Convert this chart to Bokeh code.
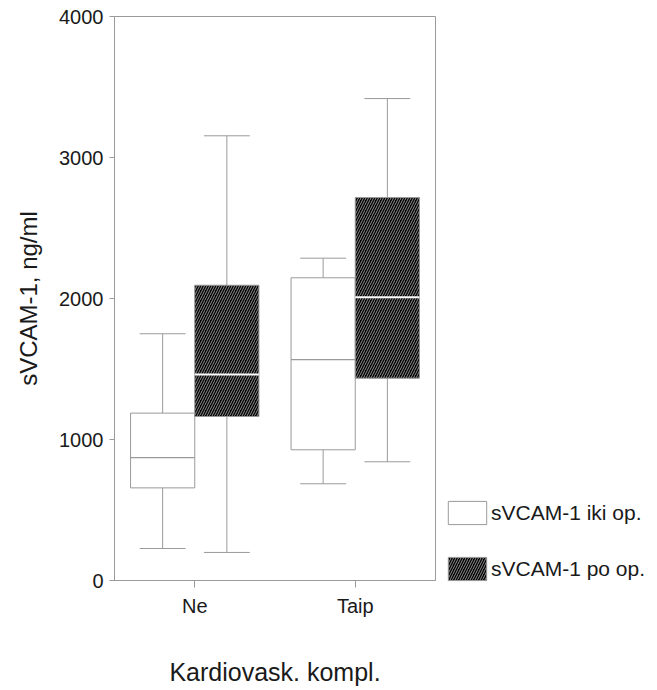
from bokeh.plotting import figure
from bokeh.models import (ColumnDataSource, FactorRange, FixedTicker, Legend, LegendItem, Range1d)
from bokeh.transform import dodge
from bokeh.embed import file_html
from bokeh.resources import INLINE

categories = ["Ne", "Taip"]
tick_values = [0, 1000, 2000, 3000, 4000]

iki_lower = [227, 686]
iki_q1 = [657, 927]
iki_median = [872, 1567]
iki_q3 = [1187, 2147]
iki_upper = [1750, 2286]

po_lower = [199, 842]
po_q1 = [1163, 1435]
po_median = [1461, 2009]
po_q3 = [2094, 2716]
po_upper = [3154, 3418]

FONT = "Liberation Sans"
GREY = "#9a9a9a"

p = figure(x_range=FactorRange(factors=categories, range_padding=0),
           y_range=Range1d(0, 4000),
           frame_width=321, frame_height=564,
           min_border_left=114, min_border_top=16, min_border_bottom=110, min_border_right=222,
           output_backend="svg", toolbar_location=None)

src_iki = ColumnDataSource(dict(x=categories, lower=iki_lower, q1=iki_q1, med=iki_median, q3=iki_q3, upper=iki_upper))
src_po = ColumnDataSource(dict(x=categories, lower=po_lower, q1=po_q1, med=po_median, q3=po_q3, upper=po_upper))

def draw(src, off, box_kwargs, median_color, median_width):
    c = off
    xc = dodge("x", c, range=p.x_range)
    p.segment(x0=xc, y0="q3", x1=xc, y1="upper", source=src, line_color=GREY, line_width=1)
    p.segment(x0=xc, y0="lower", x1=xc, y1="q1", source=src, line_color=GREY, line_width=1)
    xl = dodge("x", c - 0.143, range=p.x_range)
    xr = dodge("x", c + 0.143, range=p.x_range)
    p.segment(x0=xl, y0="upper", x1=xr, y1="upper", source=src, line_color=GREY, line_width=1)
    p.segment(x0=xl, y0="lower", x1=xr, y1="lower", source=src, line_color=GREY, line_width=1)
    r = p.vbar(x=xc, width=0.4, top="q3", bottom="q1", source=src, **box_kwargs)
    p.segment(x0=dodge("x", c - 0.2, range=p.x_range), y0="med",
              x1=dodge("x", c + 0.2, range=p.x_range), y1="med",
              source=src, line_color=median_color, line_width=median_width)
    return r

r_iki = draw(src_iki, -0.2, dict(fill_color="white", line_color=GREY, line_width=1), GREY, 1.2)
r_po = draw(src_po, 0.2, dict(fill_color="black", line_color=GREY, line_width=1,
                               hatch_pattern="right_diagonal_line", hatch_color="#a0a0a0",
                               hatch_scale=5, hatch_weight=0.9), "white", 2)

p.xgrid.visible = False
p.ygrid.visible = False
p.outline_line_color = GREY

p.yaxis.ticker = FixedTicker(ticks=tick_values)
p.yaxis.minor_tick_line_color = None
p.yaxis.major_tick_in = 0
p.yaxis.major_tick_out = 5
p.yaxis.major_label_standoff = 6
p.yaxis.axis_label = "sVCAM-1, ng/ml"
p.yaxis.axis_label_standoff = 14

p.xaxis.major_tick_in = 0
p.xaxis.major_tick_out = 7
p.xaxis.major_label_standoff = 7
p.xaxis.axis_label = "Kardiovask. kompl."
p.xaxis.axis_label_standoff = 38

for ax in (p.xaxis[0], p.yaxis[0]):
    ax.axis_line_color = GREY
    ax.major_tick_line_color = GREY
    ax.major_label_text_font = FONT
    ax.major_label_text_font_size = "20px"
    ax.major_label_text_color = "#1a1a1a"
    ax.axis_label_text_font = FONT
    ax.axis_label_text_font_style = "normal"
    ax.axis_label_text_color = "#1a1a1a"
p.yaxis.axis_label_text_font_size = "24px"
p.xaxis.axis_label_text_font_size = "25px"

legend = Legend(items=[LegendItem(label="sVCAM-1 iki op.", renderers=[r_iki]),
                       LegendItem(label="sVCAM-1 po op.", renderers=[r_po])],
                location=(8, -3), orientation="vertical",
                glyph_width=48, glyph_height=29, spacing=27, padding=0, margin=0,
                label_standoff=0, label_text_font=FONT, label_text_font_size="21px",
                label_text_color="#1a1a1a", border_line_color=None, background_fill_alpha=0)
p.add_layout(legend, "right")

open("out.html", "w").write(file_html(p, INLINE))
